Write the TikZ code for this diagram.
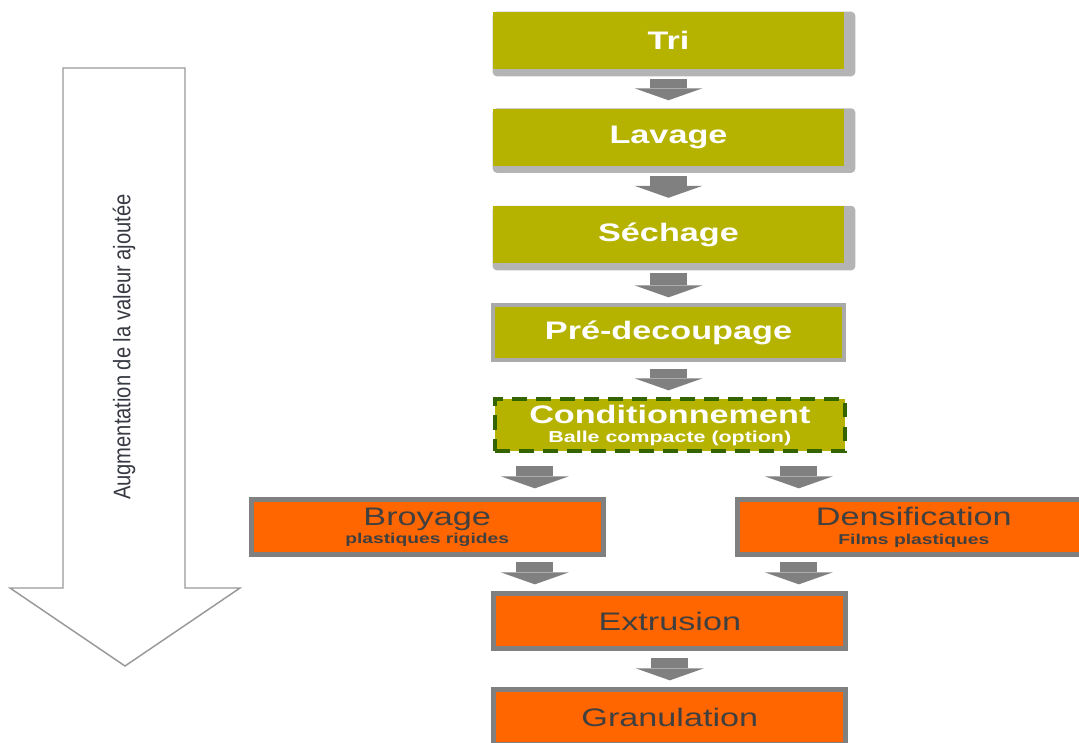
\documentclass[tikz,border=0pt]{standalone}
\usepackage{fontspec}
\setmainfont{Liberation Sans}
\newfontfamily\boxfont{Liberation Sans}[FakeStretch=1.35]
\newfontfamily\sidefont{Liberation Sans}[FakeStretch=0.84]
\usetikzlibrary{arrows.meta,positioning,calc,backgrounds}
\definecolor{prepolive}{RGB}{181,179,0}
\definecolor{shadowgray}{RGB}{180,180,180}
\definecolor{prepgray}{RGB}{170,170,170}
\definecolor{condgreen}{RGB}{51,100,0}
\definecolor{convorange}{RGB}{255,102,0}
\definecolor{convgray}{RGB}{128,128,128}
\definecolor{convtext}{RGB}{64,64,64}
\definecolor{flowgray}{RGB}{128,128,128}
\definecolor{sidetext}{RGB}{55,58,66}
\newcommand\subline[2][10.7]{{\fontsize{#1}{13}\selectfont\bfseries #2}}

\begin{document}
\begin{tikzpicture}[x=0.75pt,y=-0.75pt,
      font=\boxfont,
      stage/.style={inner sep=0pt,align=center},
      prep/.style={stage,fill=prepolive,text=white,minimum width=263.25pt,
                   minimum height=42.75pt,font=\boxfont\fontsize{19}{14}\selectfont\bfseries},
      conv/.style={stage,fill=convorange,draw=convgray,line width=3.75pt,minimum width=264pt,
                   minimum height=41.25pt,text=convtext,font=\boxfont\fontsize{19}{14}\selectfont},
      boxshadow/.style={fill=shadowgray,rounded corners=3pt},
      flow/.style={draw=flowgray,line width=27.75pt,-{Triangle[length=9pt,width=51pt,line width=0pt]}},
      valarrow/.style={draw=black!40,fill=white,line width=1.1pt}]
    \useasboundingbox (0,0) rectangle (1079,743);
    \draw[valarrow] (63,68) -- (185,68) -- (185,588) -- (240,588) -- (125,666) -- (10,588) -- (63,588) -- cycle;
    \node[rotate=90,text=sidetext,font=\sidefont\fontsize{18}{20}\selectfont] (gain) at (124,347) {Augmentation de la valeur ajoutée};
    \node[prep] (tri) at (668.5,40.5) {Tri};
    \node[prep,below=29.25pt of tri] (lav) {Lavage};
    \node[prep,below=30pt of lav] (sech) {Séchage};
    \node[prep,draw=prepgray,line width=3pt,minimum height=41.25pt,below=30pt of sech] (pre) {Pré-decoupage};
    \node[prep,draw=condgreen,line width=3pt,dash pattern=on 11pt off 7pt,minimum width=262.5pt,
          minimum height=39pt,below=26.25pt of pre,xshift=1pt] (cond) {Conditionnement\\\subline[11.9]{Balle compacte (option)}};
    \node[conv,below=33pt of cond,xshift=-182pt] (broy) {Broyage\\\subline{plastiques rigides}};
    \node[conv,below=33pt of cond,xshift=183pt] (dens) {Densification\\\subline{Films plastiques}};
    \node[conv,below=25.5pt of broy,xshift=182pt] (extr) {Extrusion};
    \node[conv,below=27pt of extr] (gran) {Granulation};
    \begin{scope}[on background layer]
      \foreach \n in {tri,lav,sech}
        \fill[boxshadow] (\n.north west) rectangle ($(\n.south east)+(11,7)$);
    \end{scope}
    \draw[flow] ($(tri.south)+(0,10)$) -- ($(lav.north)+(0,-8)$);
    \draw[flow] ($(lav.south)+(0,10)$) -- ($(sech.north)+(0,-8)$);
    \draw[flow] ($(sech.south)+(0,10)$) -- ($(pre.north)+(0,-6)$);
    \draw[flow] ($(pre.south)+(0,7)$) -- ($(pre.south |- cond.north)+(0,-7)$);
    \coordinate (splitl) at ($(cond.south west)+(42,13)$);
    \coordinate (splitr) at ($(cond.south east)+(-48,13)$);
    \draw[flow] (splitl) -- ($(splitl |- broy.north)+(0,-9)$);
    \draw[flow] (splitr) -- ($(splitr |- dens.north)+(0,-9)$);
    \draw[flow] ($(splitl |- broy.south)+(0,5)$) -- ($(splitl |- extr.north)+(0,-7)$);
    \draw[flow] ($(splitr |- dens.south)+(0,5)$) -- ($(splitr |- extr.north)+(0,-7)$);
    \draw[flow] ($(extr.south)+(0,7)$) -- ($(gran.north)+(0,-7)$);
  \end{tikzpicture}
\end{document}
